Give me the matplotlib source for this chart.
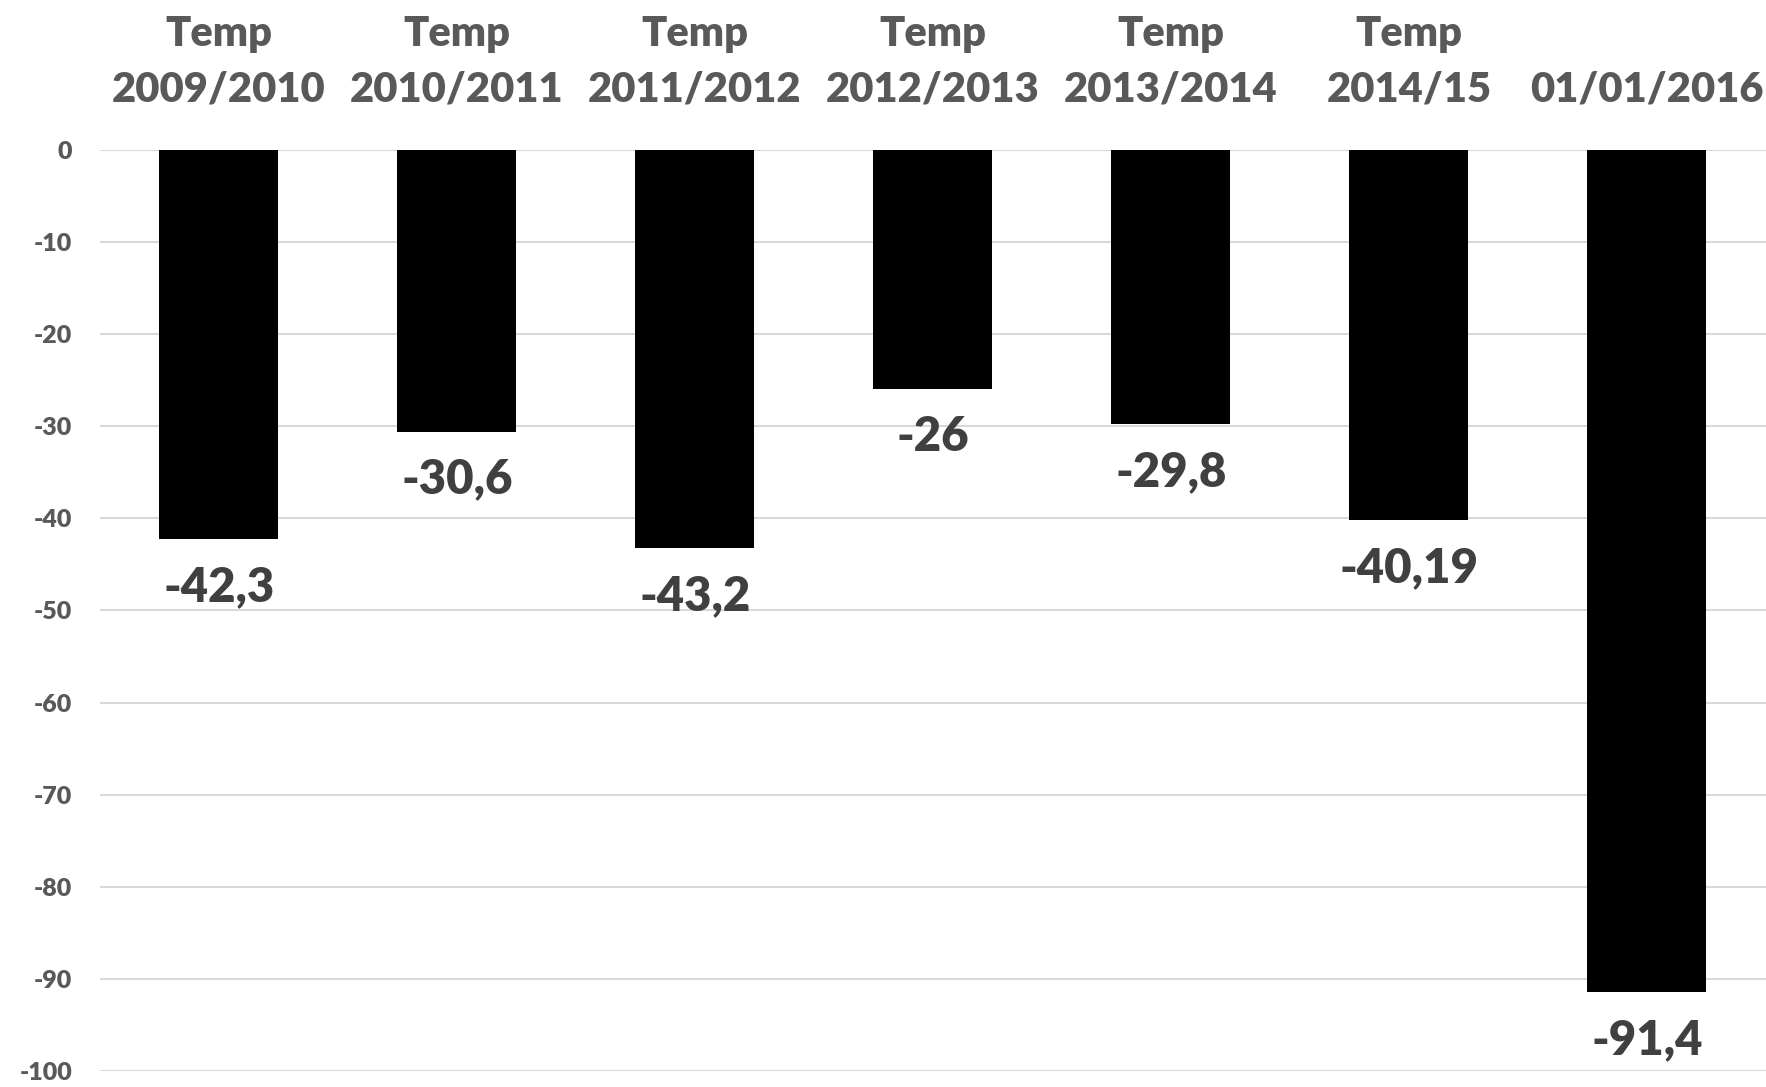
import matplotlib
matplotlib.use("Agg")
import matplotlib.pyplot as plt

plt.rcParams['font.family'] = ['Lato', 'DejaVu Sans']

categories = ["Temp\n2009/2010", "Temp\n2010/2011", "Temp\n2011/2012",
              "Temp\n2012/2013", "Temp\n2013/2014", "Temp\n2014/15", "01/01/2016"]
values = [-42.3, -30.6, -43.2, -26, -29.8, -40.19, -91.4]
yticks = [0, -10, -20, -30, -40, -50, -60, -70, -80, -90, -100]

fig = plt.figure(figsize=(17.66, 10.87), dpi=100)
ax = fig.add_axes([0.0566, 0.0147, 0.9434, 0.8475])

x = list(range(len(values)))
bars = ax.bar(x, values, width=0.5, color="black", zorder=3)

# etiquetas de valor bajo cada barra
for xi, v in zip(x, values):
    txt = f"{v:g}".replace(".", ",")
    ax.annotate(txt, (xi, v), xytext=(0, -48), textcoords="offset pixels",
                ha="center", va="center", fontsize=34, fontweight="heavy",
                color="#404040")

ax.set_xlim(-0.5, len(values) - 0.5)
ax.set_ylim(-100, 0)
ax.set_yticks(yticks)
ax.set_yticklabels([str(t) for t in yticks])
ax.grid(axis="y", color="#d9d9d9", linewidth=1.5, zorder=0)
ax.set_axisbelow(True)

ax.xaxis.tick_top()
ax.set_xticks(x)
ax.set_xticklabels(categories, linespacing=1.55)
ax.tick_params(axis="x", length=0, pad=30, labelsize=30, labelcolor="#595959")
ax.tick_params(axis="y", length=0, pad=20, labelsize=18, labelcolor="#595959")
for lab in ax.get_xticklabels() + ax.get_yticklabels():
    lab.set_fontweight("heavy")

for s in ax.spines.values():
    s.set_visible(False)

fig.savefig("out.png", dpi=100)
